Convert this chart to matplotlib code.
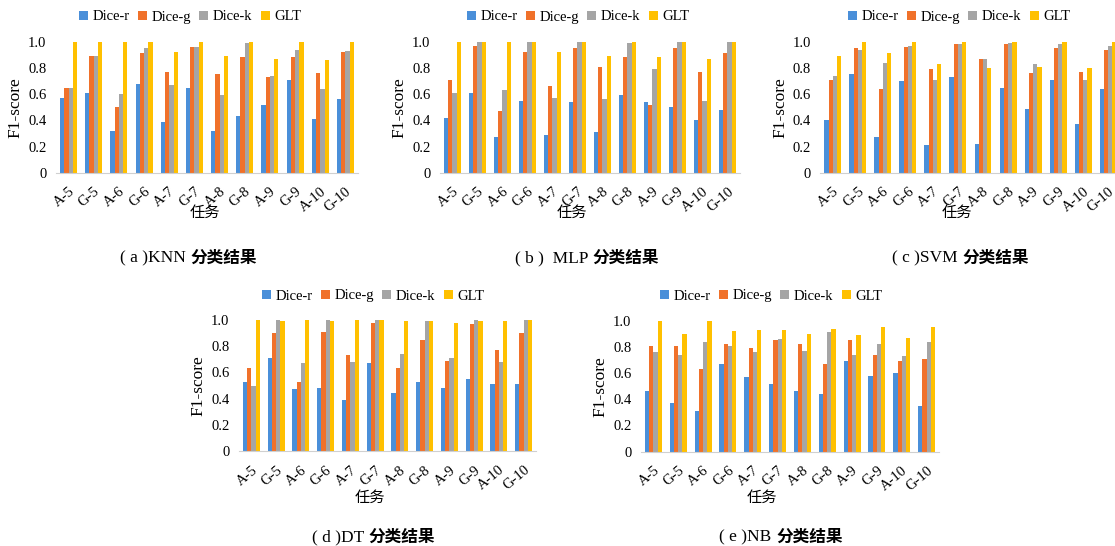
import matplotlib
matplotlib.use("Agg")
import matplotlib.pyplot as plt
import numpy as np

plt.rcParams['font.family'] = ['Liberation Serif', 'Noto Sans CJK SC', 'DejaVu Sans']

tasks = ["A-5", "G-5", "A-6", "G-6", "A-7", "G-7", "A-8", "G-8", "A-9", "G-9", "A-10", "G-10"]
methods = ["Dice-r", "Dice-g", "Dice-k", "GLT"]
colors = ["#4A8FD9", "#F0712A", "#A5A5A5", "#FFC000"]

# KNN
knn_r = [0.57, 0.61, 0.32, 0.68, 0.39, 0.65, 0.32, 0.43, 0.52, 0.71, 0.41, 0.56]
knn_g = [0.65, 0.89, 0.50, 0.91, 0.77, 0.96, 0.75, 0.88, 0.73, 0.88, 0.76, 0.92]
knn_k = [0.65, 0.89, 0.60, 0.95, 0.67, 0.96, 0.59, 0.99, 0.74, 0.94, 0.64, 0.93]
knn_glt = [1.0, 1.0, 1.0, 1.0, 0.92, 1.0, 0.89, 1.0, 0.87, 1.0, 0.86, 1.0]

# MLP
mlp_r = [0.42, 0.61, 0.27, 0.55, 0.29, 0.54, 0.31, 0.59, 0.54, 0.50, 0.40, 0.48]
mlp_g = [0.71, 0.97, 0.47, 0.92, 0.66, 0.95, 0.81, 0.88, 0.52, 0.95, 0.77, 0.91]
mlp_k = [0.61, 1.0, 0.63, 1.0, 0.57, 1.0, 0.56, 0.99, 0.79, 1.0, 0.55, 1.0]
mlp_glt = [1.0, 1.0, 1.0, 1.0, 0.92, 1.0, 0.89, 1.0, 0.88, 1.0, 0.87, 1.0]

# SVM
svm_r = [0.40, 0.75, 0.27, 0.70, 0.21, 0.73, 0.22, 0.65, 0.49, 0.71, 0.37, 0.64]
svm_g = [0.71, 0.95, 0.64, 0.96, 0.79, 0.98, 0.87, 0.98, 0.76, 0.95, 0.77, 0.94]
svm_k = [0.74, 0.94, 0.84, 0.97, 0.71, 0.98, 0.87, 0.99, 0.83, 0.98, 0.71, 0.97]
svm_glt = [0.89, 1.0, 0.91, 1.0, 0.83, 1.0, 0.80, 1.0, 0.81, 1.0, 0.80, 1.0]

# DT
dt_r = [0.53, 0.71, 0.47, 0.48, 0.39, 0.67, 0.44, 0.53, 0.48, 0.55, 0.51, 0.51]
dt_g = [0.63, 0.90, 0.53, 0.91, 0.73, 0.98, 0.63, 0.85, 0.69, 0.97, 0.77, 0.90]
dt_k = [0.50, 1.0, 0.67, 1.0, 0.68, 1.0, 0.74, 0.995, 0.71, 1.0, 0.68, 1.0]
dt_glt = [1.0, 0.995, 1.0, 0.995, 1.0, 1.0, 0.995, 0.995, 0.98, 0.99, 0.995, 1.0]

# NB
nb_r = [0.46, 0.37, 0.31, 0.67, 0.57, 0.52, 0.46, 0.44, 0.69, 0.58, 0.60, 0.35]
nb_g = [0.81, 0.81, 0.63, 0.82, 0.79, 0.85, 0.82, 0.67, 0.85, 0.74, 0.69, 0.71]
nb_k = [0.76, 0.74, 0.84, 0.81, 0.76, 0.86, 0.77, 0.91, 0.74, 0.82, 0.73, 0.84]
nb_glt = [1.0, 0.90, 1.0, 0.92, 0.93, 0.93, 0.90, 0.94, 0.89, 0.95, 0.87, 0.95]

W, H = 1115, 546
fig = plt.figure(figsize=(W / 100, H / 100), dpi=100)


def px_axes(left, right, bottom, top):
    return fig.add_axes([left / W, 1 - bottom / H, (right - left) / W, (bottom - top) / H])


# panel: (axes box px, data, legend center, xlabel pos, caption latin, caption split x, caption y)
panels = [
    ((56, 358, 172.7, 41.7), [knn_r, knn_g, knn_k, knn_glt], (190, 17), (205, 212), "( a )KNN ", 190, 258),
    ((440, 740, 172.7, 41.7), [mlp_r, mlp_g, mlp_k, mlp_glt], (578, 17), (572, 212), "( b )  MLP ", 592, 258),
    ((820.5, 1120.5, 172.7, 41.7), [svm_r, svm_g, svm_k, svm_glt], (959, 17), (957, 212), "( c )SVM ", 962, 258),
    ((239, 536, 451, 320), [dt_r, dt_g, dt_k, dt_glt], (373, 296), (370, 497), "( d )DT ", 368, 537),
    ((641, 939, 451.7, 320.7), [nb_r, nb_g, nb_k, nb_glt], (771, 296), (762, 497), "( e )NB ", 776, 537),
]

x = np.arange(len(tasks))
bw = 0.17
for box, series, leg_c, xl, cap, cap_x, cap_y in panels:
    ax = px_axes(*box)
    for i, (vals, c, name) in enumerate(zip(series, colors, methods)):
        ax.bar(x + (i - 1.5) * bw, vals, width=bw, color=c, label=name)
    ax.set_xlim(-0.5, len(tasks) - 0.5)
    ax.set_ylim(0, 1.0)
    ax.set_yticks([0, 0.2, 0.4, 0.6, 0.8, 1.0])
    ax.set_yticklabels(["0", "0.2", "0.4", "0.6", "0.8", "1.0"], fontsize=10.5)
    ax.set_xticks(x)
    ax.set_xticklabels(tasks, rotation=40, ha="right", va="top", rotation_mode="anchor", fontsize=10.5)
    ax.tick_params(axis="both", length=0)
    ax.tick_params(axis="y", pad=7)
    ax.tick_params(axis="x", pad=9)
    for s in ["top", "right", "left"]:
        ax.spines[s].set_visible(False)
    ax.spines["bottom"].set_color("#d0d0d0")
    ax.set_ylabel("F1-score", fontsize=12.5, labelpad=3)
    ax.set_facecolor("none")
    fig.legend(*ax.get_legend_handles_labels(), loc="center", ncol=4,
               bbox_to_anchor=(leg_c[0] / W, 1 - leg_c[1] / H), frameon=False,
               fontsize=10.5, handlelength=0.6, handleheight=0.6, handletextpad=0.3,
               columnspacing=0.6, borderpad=0)
    fig.text(xl[0] / W, 1 - xl[1] / H, "任务", ha="center", va="center", fontsize=11,
             family=["Noto Sans CJK SC"])
    fig.text(cap_x / W, 1 - cap_y / H, cap, ha="right", va="center", fontsize=12.5,
             family=["Liberation Serif", "Noto Sans CJK SC"])
    fig.text(cap_x / W, 1 - cap_y / H, "分类结果", ha="left", va="center", fontsize=12,
             fontweight="bold", family=["Noto Sans CJK SC"])

fig.savefig("out.png", dpi=100, facecolor="white")
